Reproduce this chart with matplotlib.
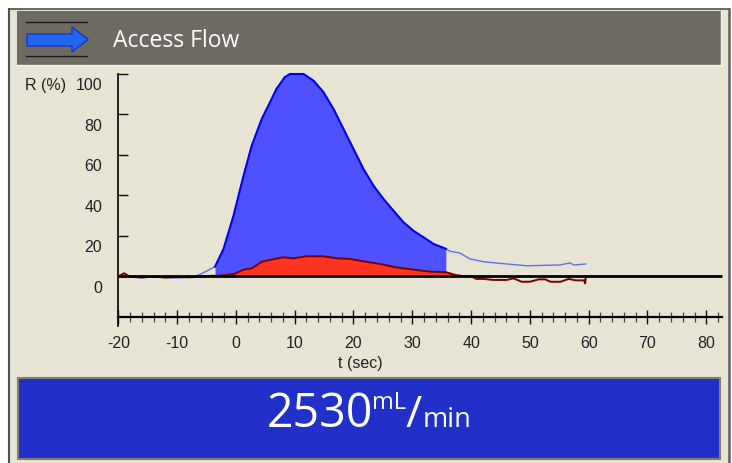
import numpy as np
import matplotlib
matplotlib.use("Agg")
import matplotlib.pyplot as plt
from matplotlib.patches import Rectangle, Polygon

# ---------------- data ----------------
title = "Access Flow"
value_text = "2530"
unit_top = "mL"
unit_bottom = "min"
x_label = "t (sec)"
y_label = "R (%)"

x_ticks = [-20, -10, 0, 10, 20, 30, 40, 50, 60, 70, 80]
y_ticks = [0, 20, 40, 60, 80, 100]

blue_t = [-20, -18, -16, -14, -12, -10, -8, -7, -6.4, -5.0, -3.55, -2.1, -0.4, 1.3,
          2.7, 4.4, 5.8, 6.9, 8.3, 9.2, 11.5, 13.2, 14.9, 16.6, 18.3, 20.0, 21.7,
          23.4, 25.1, 26.8, 28.5, 30.2, 31.9, 33.6, 35.7, 36.4, 38.1, 39.8, 42.1,
          44.9, 49.5, 55.1, 56.8, 57.5, 59.5]
blue_v = [-0.5, -0.3, -0.8, -0.2, -0.6, -0.8, -0.5, 0.0, 0.6, 2.5, 4.8, 13.5, 30.0,
          49.7, 64.6, 77.8, 86.0, 92.6, 98.4, 100.0, 100.0, 96.7, 91.0, 82.7, 72.8,
          62.9, 53.0, 44.8, 38.2, 32.4, 26.7, 22.5, 19.3, 16.0, 13.6, 12.4, 11.5,
          8.6, 7.2, 6.4, 5.2, 5.6, 6.6, 5.6, 6.1]

red_t = [-20, -19, -18, -16, -14, -12, -10, -8, -6, -4, -3.55, -2, -0.4, 1.3, 2.7,
         4.4, 5.8, 8.1, 9.8, 12.0, 14.9, 17.1, 19.4, 21.7, 24.5, 27.3, 30.2, 33.0,
         35.8, 37.4, 38.5, 40.0, 40.9, 42.1, 43.8, 46.1, 47.2, 48.6, 50.0, 51.5,
         52.6, 53.5, 55.2, 56.6, 57.8, 59.2, 59.4, 59.5]
red_v = [0.0, 1.5, -0.3, -0.5, -0.2, -0.6, -0.3, -0.5, -0.2, 0.3, 0.2, 0.5, 1.1, 3.3,
         3.9, 7.2, 8.1, 9.4, 8.9, 9.9, 9.9, 8.9, 8.6, 7.4, 6.1, 4.4, 3.3, 2.3, 2.0,
         0.6, 0.2, 0.0, -1.3, -1.3, -1.8, -1.8, -1.0, -2.7, -2.7, -1.5, -1.5, -2.7,
         -2.7, -1.3, -2.0, -2.0, -3.5, 0.0]

blue_fill_range = (-3.55, 35.7)
red_fill_range = (-3.55, 37.4)

# ---------------- styles ----------------
W, H = 732, 464
BEIGE = "#E8E4D4"
GRAY = "#6E6B63"
BOX = "#2030C8"
BLUE_FILL = "#4F50FF"
BLUE_LINE = "#0000EE"
BLUE_LIGHT = "#6070F4"
RED_FILL = "#FF3322"
RED_LINE = "#7A0000"
TXT = "#222222"
tick_font = dict(family="Liberation Sans", size=11.5, color=TXT)

fig = plt.figure(figsize=(W / 100, H / 100), dpi=100)
fig.patch.set_facecolor("white")

# background overlay axes in pixel coordinates
bg = fig.add_axes([0, 0, 1, 1], zorder=0)
bg.set_xlim(0, W)
bg.set_ylim(H, 0)
bg.axis("off")

bg.add_patch(Rectangle((9, 10), 720, 460, fc=BEIGE, ec="none"))
bg.plot([9, 9], [10, 464], color="#505050", lw=1.5)
bg.plot([9, 729], [10, 10], color="#505050", lw=1.2)
bg.plot([729, 729], [10, 464], color="#606060", lw=1.8)

# title bar
bg.add_patch(Rectangle((17, 12), 704, 54, fc=GRAY, ec="none"))
bg.plot([721, 721, 17], [12, 66, 66], color="#F4F4F0", lw=1.0)
bg.plot([26, 87], [23, 23], color="#1A1A1A", lw=1.0)
bg.plot([26, 87], [57, 57], color="#1A1A1A", lw=1.0)
arrow = Polygon([(27, 35), (72, 35), (72, 28), (88, 40.5), (72, 53), (72, 47),
                 (27, 47)], closed=True, fc="#2266F0", ec="#1038C8", lw=1.0,
                joinstyle="round")
bg.add_patch(arrow)
bg.text(113, 41, title, color="white", fontsize=16.5, family="Open Sans",
        va="center", ha="left")

# result box
bg.add_patch(Rectangle((18, 379), 702, 81, fc=BOX, ec="#808070", lw=1.5))
bg.text(267, 427, value_text, color="white", fontsize=33.5, family="Open Sans",
        va="baseline", ha="left")
bg.text(372, 409, unit_top, color="white", fontsize=17, family="Open Sans",
        va="baseline", ha="left")
bg.text(406, 427, "/", color="white", fontsize=32, family="Open Sans",
        va="baseline", ha="left")
bg.text(423, 427, unit_bottom, color="white", fontsize=19.5, family="Open Sans",
        va="baseline", ha="left")

# ---------------- main plot ----------------
xlim = (-21, 83)
ylim = (-26, 104)
ax = fig.add_axes([0.15358, 0.28901, 0.83540, 0.56681], zorder=2)
ax.patch.set_alpha(0)
ax.set_xlim(*xlim)
ax.set_ylim(*ylim)

bt = np.array(blue_t)
bv = np.array(blue_v)
rt = np.array(red_t)
rv = np.array(red_v)

bmask = (bt >= blue_fill_range[0]) & (bt <= blue_fill_range[1])
rmask = (rt >= red_fill_range[0]) & (rt <= red_fill_range[1])

ax.fill_between(bt, 0, bv, where=bmask, color=BLUE_FILL, lw=0, zorder=1)
ax.plot(bt, bv, color=BLUE_LIGHT, lw=1.0, zorder=2)
ax.plot(bt[bmask], bv[bmask], color=BLUE_LINE, lw=1.5, zorder=3)

ax.fill_between(rt, 0, np.maximum(rv, 0), where=rmask, color=RED_FILL, lw=0, zorder=4)
ax.plot(rt, rv, color=RED_LINE, lw=1.4, zorder=5)

x_axis_end = 82.6
ax.hlines(0, x_ticks[0], x_axis_end, color="black", lw=2.0, zorder=6)

# spines
for s in ("top", "right"):
    ax.spines[s].set_visible(False)
ax.spines["left"].set_position(("data", x_ticks[0]))
ax.spines["left"].set_bounds(-24.6, y_ticks[-1])
ax.spines["left"].set_linewidth(1.2)
ax.spines["bottom"].set_position(("data", -20))
ax.spines["bottom"].set_bounds(x_ticks[0], x_axis_end)
ax.spines["bottom"].set_linewidth(1.6)

ax.set_xticks(x_ticks)
ax.set_xticklabels([str(v) for v in x_ticks], fontdict=tick_font)
ax.set_xticks(np.arange(-20, 83, 2), minor=True)
ax.tick_params(axis="x", which="major", direction="inout", length=10.5, width=1.0,
               color="#111111", pad=8)
ax.tick_params(axis="x", which="minor", direction="inout", length=6.5, width=0.9,
               color="#444444")

ax.set_yticks(y_ticks)
ax.set_yticklabels([])
ax.tick_params(axis="y", which="major", direction="in", length=7.3, width=1.0,
               color="#111111")

for v in y_ticks:
    ax.annotate(str(v), xy=(x_ticks[0], v), xytext=(-16, -11), textcoords="offset pixels",
                ha="right", va="center", **tick_font)
ax.annotate(y_label, xy=(x_ticks[0], y_ticks[-1]), xytext=(-52, -11),
            textcoords="offset pixels", ha="right", va="center", **tick_font)

bg.text(360, 364, x_label, ha="center", va="center", **tick_font)

fig.savefig("out.png", dpi=100)
